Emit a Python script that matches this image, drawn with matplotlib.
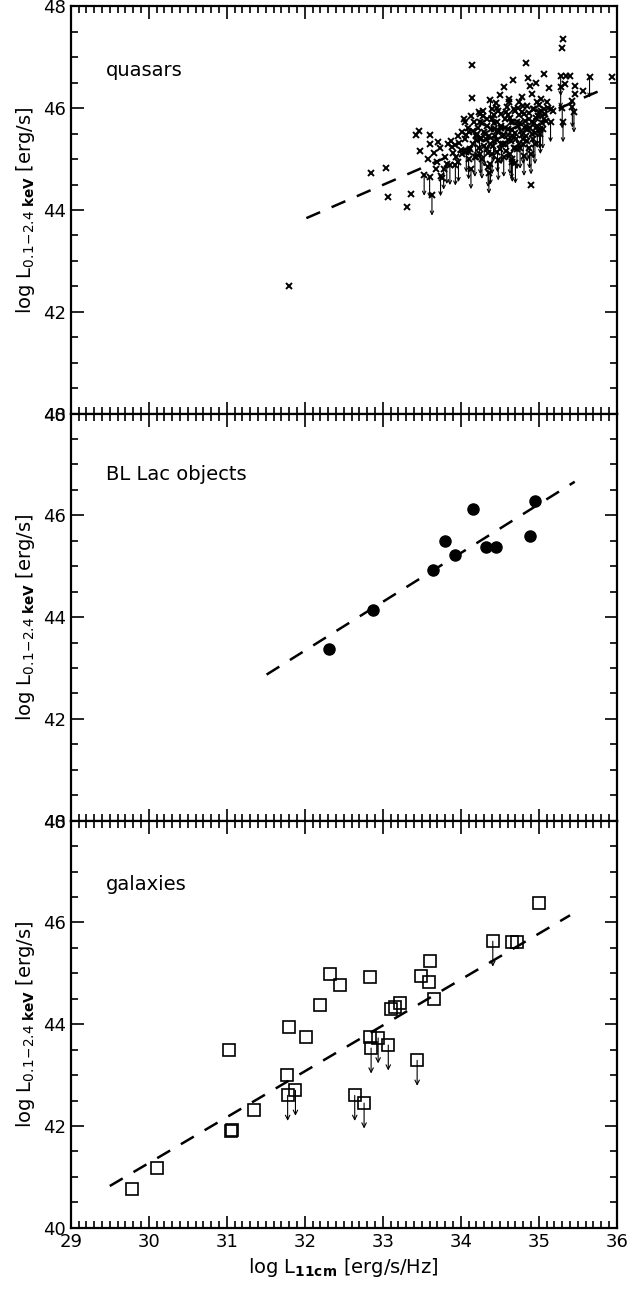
import matplotlib
matplotlib.use("Agg")
import matplotlib.pyplot as plt
from matplotlib.ticker import MultipleLocator

plt.rcParams.update({
    "font.family": "DejaVu Sans",
    "mathtext.default": "regular",
    "axes.linewidth": 1.6,
})

# ---- quasars: detections
qso_x = [32.85, 33.04, 33.07, 33.31, 33.36, 33.46, 33.43, 33.48, 33.58, 33.61,
         33.60, 33.68, 33.71, 33.73, 33.76, 33.87, 33.89, 33.92, 33.94, 34.01,
         34.04, 34.06, 34.10, 34.11, 34.14, 34.14, 34.17, 34.23, 34.25, 34.30,
         34.32, 34.40, 34.42, 34.43, 34.47, 34.50, 34.51, 34.55, 34.55, 34.57,
         34.60, 34.62, 34.64, 34.67, 34.68, 34.68, 34.70, 34.72, 34.74, 34.79,
         34.80, 34.83, 34.84, 34.85, 34.86, 34.89, 34.90, 34.91, 34.91, 34.94,
         34.96, 34.98, 35.00, 35.03, 35.06, 35.06, 35.07, 35.11, 35.13, 35.16,
         35.18, 35.30, 35.31, 35.34, 35.35, 35.40, 35.42, 35.46, 35.46, 35.56,
         35.94, 31.80,
         34.22, 34.26, 34.29, 34.33, 34.37, 34.40, 34.44, 34.46, 34.49, 34.52,
         34.54, 34.57, 34.59, 34.61, 34.63, 34.66, 34.69, 34.71, 34.73, 34.75,
         34.77, 34.80, 34.82, 34.84, 34.87, 34.89, 34.92, 34.95, 34.97, 35.00,
         35.04, 35.08, 35.12, 34.35, 34.50, 34.58, 34.68, 34.28, 34.45, 34.62,
         34.78, 34.15, 34.20, 34.05, 34.00, 34.09,
         33.98, 34.02, 34.07, 34.12, 34.16, 34.19, 34.23, 34.27, 34.31, 34.34,
         34.36, 34.39, 34.41, 34.43, 34.47, 34.51, 34.53, 34.56, 34.60, 34.64,
         34.67, 34.70, 34.74, 34.76, 34.79, 34.81, 34.86, 34.88, 34.91, 34.94,
         34.99, 35.03, 35.09, 33.80, 33.84, 33.90, 33.96, 33.70, 33.66, 34.13,
         34.24, 34.48, 34.58, 34.73, 34.21, 34.34, 34.46, 34.66, 34.83, 34.97]
qso_y = [44.72, 44.83, 44.25, 44.06, 44.32, 45.56, 45.47, 45.16, 45.01, 45.47,
         45.30, 44.81, 45.34, 45.22, 44.63, 45.35, 45.24, 45.27, 45.04, 45.54,
         45.78, 45.73, 45.14, 45.53, 46.85, 46.21, 45.73, 45.92, 45.73, 45.53,
         45.40, 45.79, 45.60, 45.86, 46.00, 46.26, 45.66, 46.41, 45.47, 45.30,
         45.86, 46.12, 45.73, 46.56, 45.99, 45.43, 45.21, 45.73, 46.12, 45.92,
         45.40, 45.60, 46.89, 46.05, 46.59, 46.44, 44.50, 46.28, 45.73, 45.99,
         46.49, 46.12, 45.92, 46.19, 46.67, 45.99, 45.79, 46.12, 46.40, 45.99,
         45.95, 47.19, 47.37, 46.48, 46.64, 46.64, 46.15, 46.44, 46.28, 46.33,
         46.61, 42.50,
         45.62, 45.41, 45.85, 45.66, 45.30, 45.98, 45.45, 45.72, 45.55, 45.88,
         45.30, 45.62, 46.02, 45.48, 45.80, 45.58, 45.95, 45.40, 45.66, 45.86,
         45.55, 46.04, 45.75, 45.45, 45.90, 45.62, 45.98, 45.52, 45.80, 46.06,
         45.70, 45.88, 46.00, 45.12, 45.20, 45.15, 45.22, 45.95, 46.10, 46.18,
         46.22, 45.30, 45.05, 45.40, 45.18, 45.62,
         45.32, 45.10, 45.48, 45.20, 45.55, 45.38, 45.22, 45.70, 45.50, 45.78,
         45.45, 45.60, 45.25, 45.70, 45.38, 45.62, 45.45, 45.78, 45.60, 45.35,
         45.72, 45.52, 45.30, 45.70, 45.48, 45.88, 45.60, 45.78, 45.50, 45.70,
         45.85, 45.95, 45.75, 45.05, 45.30, 45.12, 45.45, 44.95, 45.12, 45.85,
         45.88, 45.95, 45.92, 46.00, 45.50, 45.20, 45.55, 45.45, 45.65, 45.62]
# ---- quasars: upper limits
qso_lim_x = [33.53, 33.63, 33.60, 33.74, 33.82, 33.86, 33.93, 34.07, 34.13, 34.19,
             34.27, 34.35, 34.36, 34.38, 34.47, 34.65, 34.66, 34.76, 34.81, 34.88,
             34.98, 35.01, 35.15, 35.28, 35.28, 35.30, 35.31, 35.43, 35.45, 35.65,
             34.30, 34.42, 34.55, 34.60, 34.72, 34.85, 34.93, 35.02, 34.25, 34.48,
             34.38, 34.70, 34.18, 34.90,
             33.97, 34.10, 34.24, 34.40, 34.52, 34.63, 34.80, 34.95, 35.05, 33.78]
qso_lim_y = [44.68, 44.29, 44.64, 44.67, 44.91, 44.89, 44.88, 45.14, 44.81, 45.45,
             45.01, 44.85, 44.72, 46.17, 45.14, 45.01, 44.95, 45.21, 45.07, 45.21,
             45.66, 45.60, 45.73, 46.64, 46.41, 46.00, 45.73, 46.02, 45.92, 46.61,
             45.25, 45.35, 45.05, 45.38, 45.20, 45.35, 45.40, 45.50, 45.10, 44.98,
             44.90, 44.92, 45.05, 45.10,
             44.95, 45.00, 45.40, 45.10, 45.30, 45.10, 45.30, 45.30, 45.60, 44.80]
qso_fit_x = [32.02, 35.88]
qso_fit_y = [43.84, 46.41]

# ---- BL Lac objects
bll_x = [32.31, 32.88, 33.64, 33.80, 33.93, 34.15, 34.32, 34.45, 34.89, 34.95]
bll_y = [43.38, 44.14, 44.93, 45.50, 45.22, 46.12, 45.38, 45.38, 45.60, 46.29]
bll_fit_x = [31.51, 35.46]
bll_fit_y = [42.87, 46.66]

# ---- galaxies
gal_x = [29.79, 30.10, 31.05, 31.07, 31.03, 31.35, 31.77, 31.80, 32.01, 32.19,
         32.32, 32.45, 32.84, 32.84, 33.10, 33.16, 33.22, 33.49, 33.59, 33.60,
         33.66, 35.00, 34.65, 34.72]
gal_y = [40.77, 41.18, 41.90, 41.92, 43.49, 42.31, 43.00, 43.95, 43.74, 44.38,
         44.98, 44.78, 44.93, 43.75, 44.30, 44.33, 44.41, 44.95, 44.82, 45.25,
         44.50, 46.39, 45.61, 45.61]
gal_lim_x = [31.78, 31.88, 32.64, 32.76, 32.85, 32.94, 33.07, 33.44, 34.41]
gal_lim_y = [42.60, 42.70, 42.60, 42.45, 43.53, 43.73, 43.59, 43.29, 45.63]
gal_fit_x = [29.50, 35.40]
gal_fit_y = [40.82, 46.14]

YLAB = r"log L$_{0.1\!-\!2.4\ \mathbf{keV}}$ [erg/s]"


def arrows(ax, xs, ys, length, ms):
    for x, y in zip(xs, ys):
        ax.annotate("", xy=(x, y - length), xytext=(x, y),
                    arrowprops=dict(arrowstyle="->", lw=0.8, color="k",
                                    shrinkA=0, shrinkB=0, mutation_scale=ms))


fig, axes = plt.subplots(3, 1, figsize=(6.32, 12.91), dpi=100, sharex=True)
fig.subplots_adjust(left=0.112, right=0.976, top=0.995, bottom=0.049, hspace=0)

ax = axes[0]
arrows(ax, qso_lim_x, qso_lim_y, 0.4, 6)
ax.plot(qso_x + qso_lim_x, qso_y + qso_lim_y, "x", color="k", ms=4, mew=1.4)
ax.plot(qso_fit_x, qso_fit_y, "--", color="k", lw=1.8, dashes=(6, 5))
ax.text(29.45, 46.75, "quasars", fontsize=14, va="center")

ax = axes[1]
ax.plot(bll_x, bll_y, "o", color="k", ms=8)
ax.plot(bll_fit_x, bll_fit_y, "--", color="k", lw=1.8, dashes=(6, 5))
ax.text(29.45, 46.8, "BL Lac objects", fontsize=14, va="center")

ax = axes[2]
arrows(ax, gal_lim_x, gal_lim_y, 0.5, 8)
ax.plot(gal_x + gal_lim_x, gal_y + gal_lim_y, "s", mfc="none", mec="k",
        mew=1.2, ms=8.5)
ax.plot(gal_fit_x, gal_fit_y, "--", color="k", lw=1.8, dashes=(6, 5))
ax.text(29.45, 46.75, "galaxies", fontsize=14, va="center")
ax.set_xlabel(r"log L$_{\mathbf{11cm}}$ [erg/s/Hz]", fontsize=14)

for ax in axes:
    ax.set_xlim(29, 36)
    ax.set_ylim(40, 48)
    ax.xaxis.set_major_locator(MultipleLocator(1))
    ax.xaxis.set_minor_locator(MultipleLocator(0.1))
    ax.yaxis.set_major_locator(MultipleLocator(2))
    ax.yaxis.set_minor_locator(MultipleLocator(0.5))
    ax.tick_params(which="both", direction="in", top=True, right=True,
                   labelsize=13, width=1.2)
    ax.tick_params(which="major", length=9)
    ax.tick_params(which="minor", length=5)
    ax.set_ylabel(YLAB, fontsize=14)

fig.savefig("out.png", dpi=100)
